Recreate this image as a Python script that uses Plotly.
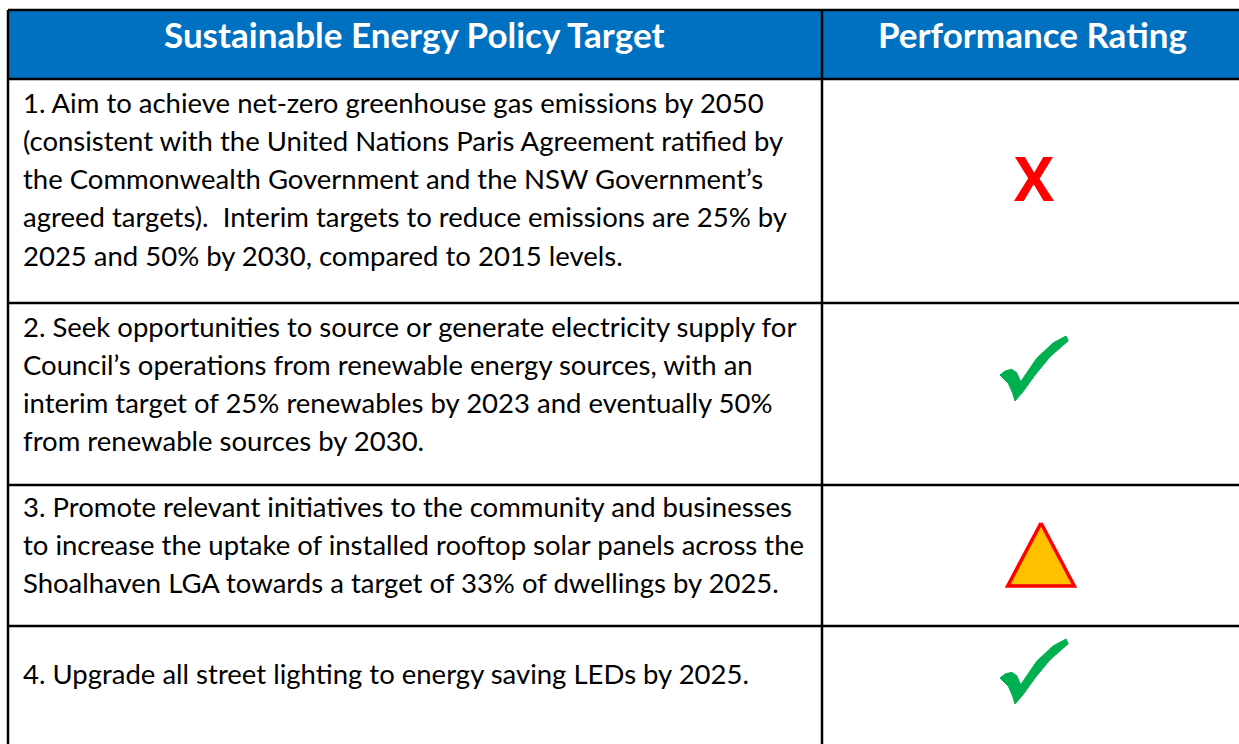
import plotly.graph_objects as go

# ---------------- data ----------------
headers = ["Sustainable Energy Policy Target", "Performance Rating"]

target_lines = [
    ["1. Aim to achieve net-zero greenhouse gas emissions by 2050",
     "(consistent with the United Nations Paris Agreement ratified by",
     "the Commonwealth Government and the NSW Government\u2019s",
     "agreed targets).\u00a0 Interim targets to reduce emissions are 25% by",
     "2025 and 50% by 2030, compared to 2015 levels."],
    ["2. Seek opportunities to source or generate electricity supply for",
     "Council\u2019s operations from renewable energy sources, with an",
     "interim target of 25% renewables by 2023 and eventually 50%",
     "from renewable sources by 2030."],
    ["3. Promote relevant initiatives to the community and businesses",
     "to increase the uptake of installed rooftop solar panels across the",
     "Shoalhaven LGA towards a target of 33% of dwellings by 2025."],
    ["4. Upgrade all street lighting to energy saving LEDs by 2025."],
]

ratings = ["not met", "met", "in progress", "met"]

# ---------------- layout constants ----------------
W, H = 1239, 744
LEFT, COL, RIGHT = 8, 822, 1245
TOP, HEAD_BOTTOM = 10, 79
row_tops = [79, 303, 485, 626]
row_bottoms = [303, 485, 626, 760]
first_line_y = [102, 326, 506, 673]
LINE_GAP = 38.3
icon_cy = [178, 368, 555, 671]
ICON_CX = 1034
TEXT_X = 21

FONT = "Lato"
BODY_SIZE = 27.5
HEAD_SIZE = 35

fig = go.Figure()

shapes = []
# header fill
shapes.append(dict(type="rect", x0=LEFT, x1=RIGHT, y0=TOP, y1=HEAD_BOTTOM,
                   fillcolor="#0070C0", line=dict(width=0), layer="below"))
# borders
line_style = dict(color="black", width=2.5)
shapes.append(dict(type="line", x0=LEFT, x1=RIGHT, y0=TOP, y1=TOP, line=line_style))
shapes.append(dict(type="line", x0=LEFT, x1=LEFT, y0=TOP, y1=H + 20, line=line_style))
shapes.append(dict(type="line", x0=COL, x1=COL, y0=TOP, y1=H + 20, line=line_style))
for yb in [HEAD_BOTTOM] + row_bottoms[:-1]:
    shapes.append(dict(type="line", x0=LEFT, x1=RIGHT, y0=yb, y1=yb, line=line_style))

annotations = []
# headers
annotations.append(dict(x=414, y=34, text="<b>%s</b>" % headers[0],
                        showarrow=False, xanchor="center", yanchor="middle",
                        font=dict(family=FONT, size=HEAD_SIZE, color="white")))
annotations.append(dict(x=1032, y=34, text="<b>%s</b>" % headers[1],
                        showarrow=False, xanchor="center", yanchor="middle",
                        font=dict(family=FONT, size=HEAD_SIZE, color="white")))

# body text
for r, lines in enumerate(target_lines):
    for i, ln in enumerate(lines):
        annotations.append(dict(x=TEXT_X, y=first_line_y[r] + i * LINE_GAP, text=ln,
                                showarrow=False, xanchor="left", yanchor="middle",
                                font=dict(family=FONT, size=BODY_SIZE, color="black")))

# icon templates (relative to icon centre)
check_dx = [-34, -29, -22.3, -17.3, -13.3, 2.7, 19, 32, 34.3, 16, 1, -11, -19, -21.3, -25.7, -34]
check_dy = [7, 3, 1.3, 4.7, 13.7, -9.7, -25, -32, -27.3, -11.3, 7, 23.7, 33, 25.3, 15.3, 7]
tri_dx = [0, 33.3, -33.3, 0]
tri_dy = [-32, 31, 31, -32]

for r, rating in enumerate(ratings):
    cy = icon_cy[r]
    if rating == "not met":
        annotations.append(dict(x=ICON_CX, y=cy, text="<b>X</b>", showarrow=False,
                                xanchor="center", yanchor="middle",
                                font=dict(family="Open Sans", size=60, color="#FF0000")))
    elif rating == "met":
        fig.add_trace(go.Scatter(x=[ICON_CX + d for d in check_dx],
                                 y=[cy + d for d in check_dy],
                                 mode="lines", fill="toself", fillcolor="#00B050",
                                 line=dict(color="#00B050", width=1), hoverinfo="skip"))
    else:
        fig.add_trace(go.Scatter(x=[ICON_CX + 7 + d for d in tri_dx],
                                 y=[cy + d for d in tri_dy],
                                 mode="lines", fill="toself", fillcolor="#FFC000",
                                 line=dict(color="#FF0000", width=3.5), hoverinfo="skip"))

fig.update_layout(
    width=W, height=H, autosize=False,
    margin=dict(l=0, r=0, t=0, b=0),
    paper_bgcolor="white", plot_bgcolor="white",
    showlegend=False,
    xaxis=dict(range=[0, W], visible=False, fixedrange=True),
    yaxis=dict(range=[H, 0], visible=False, fixedrange=True),
    shapes=shapes, annotations=annotations,
)

fig.write_html("out.html", config={"displayModeBar": False},
               post_script="document.body.style.margin='0';document.body.style.overflow='hidden';")
